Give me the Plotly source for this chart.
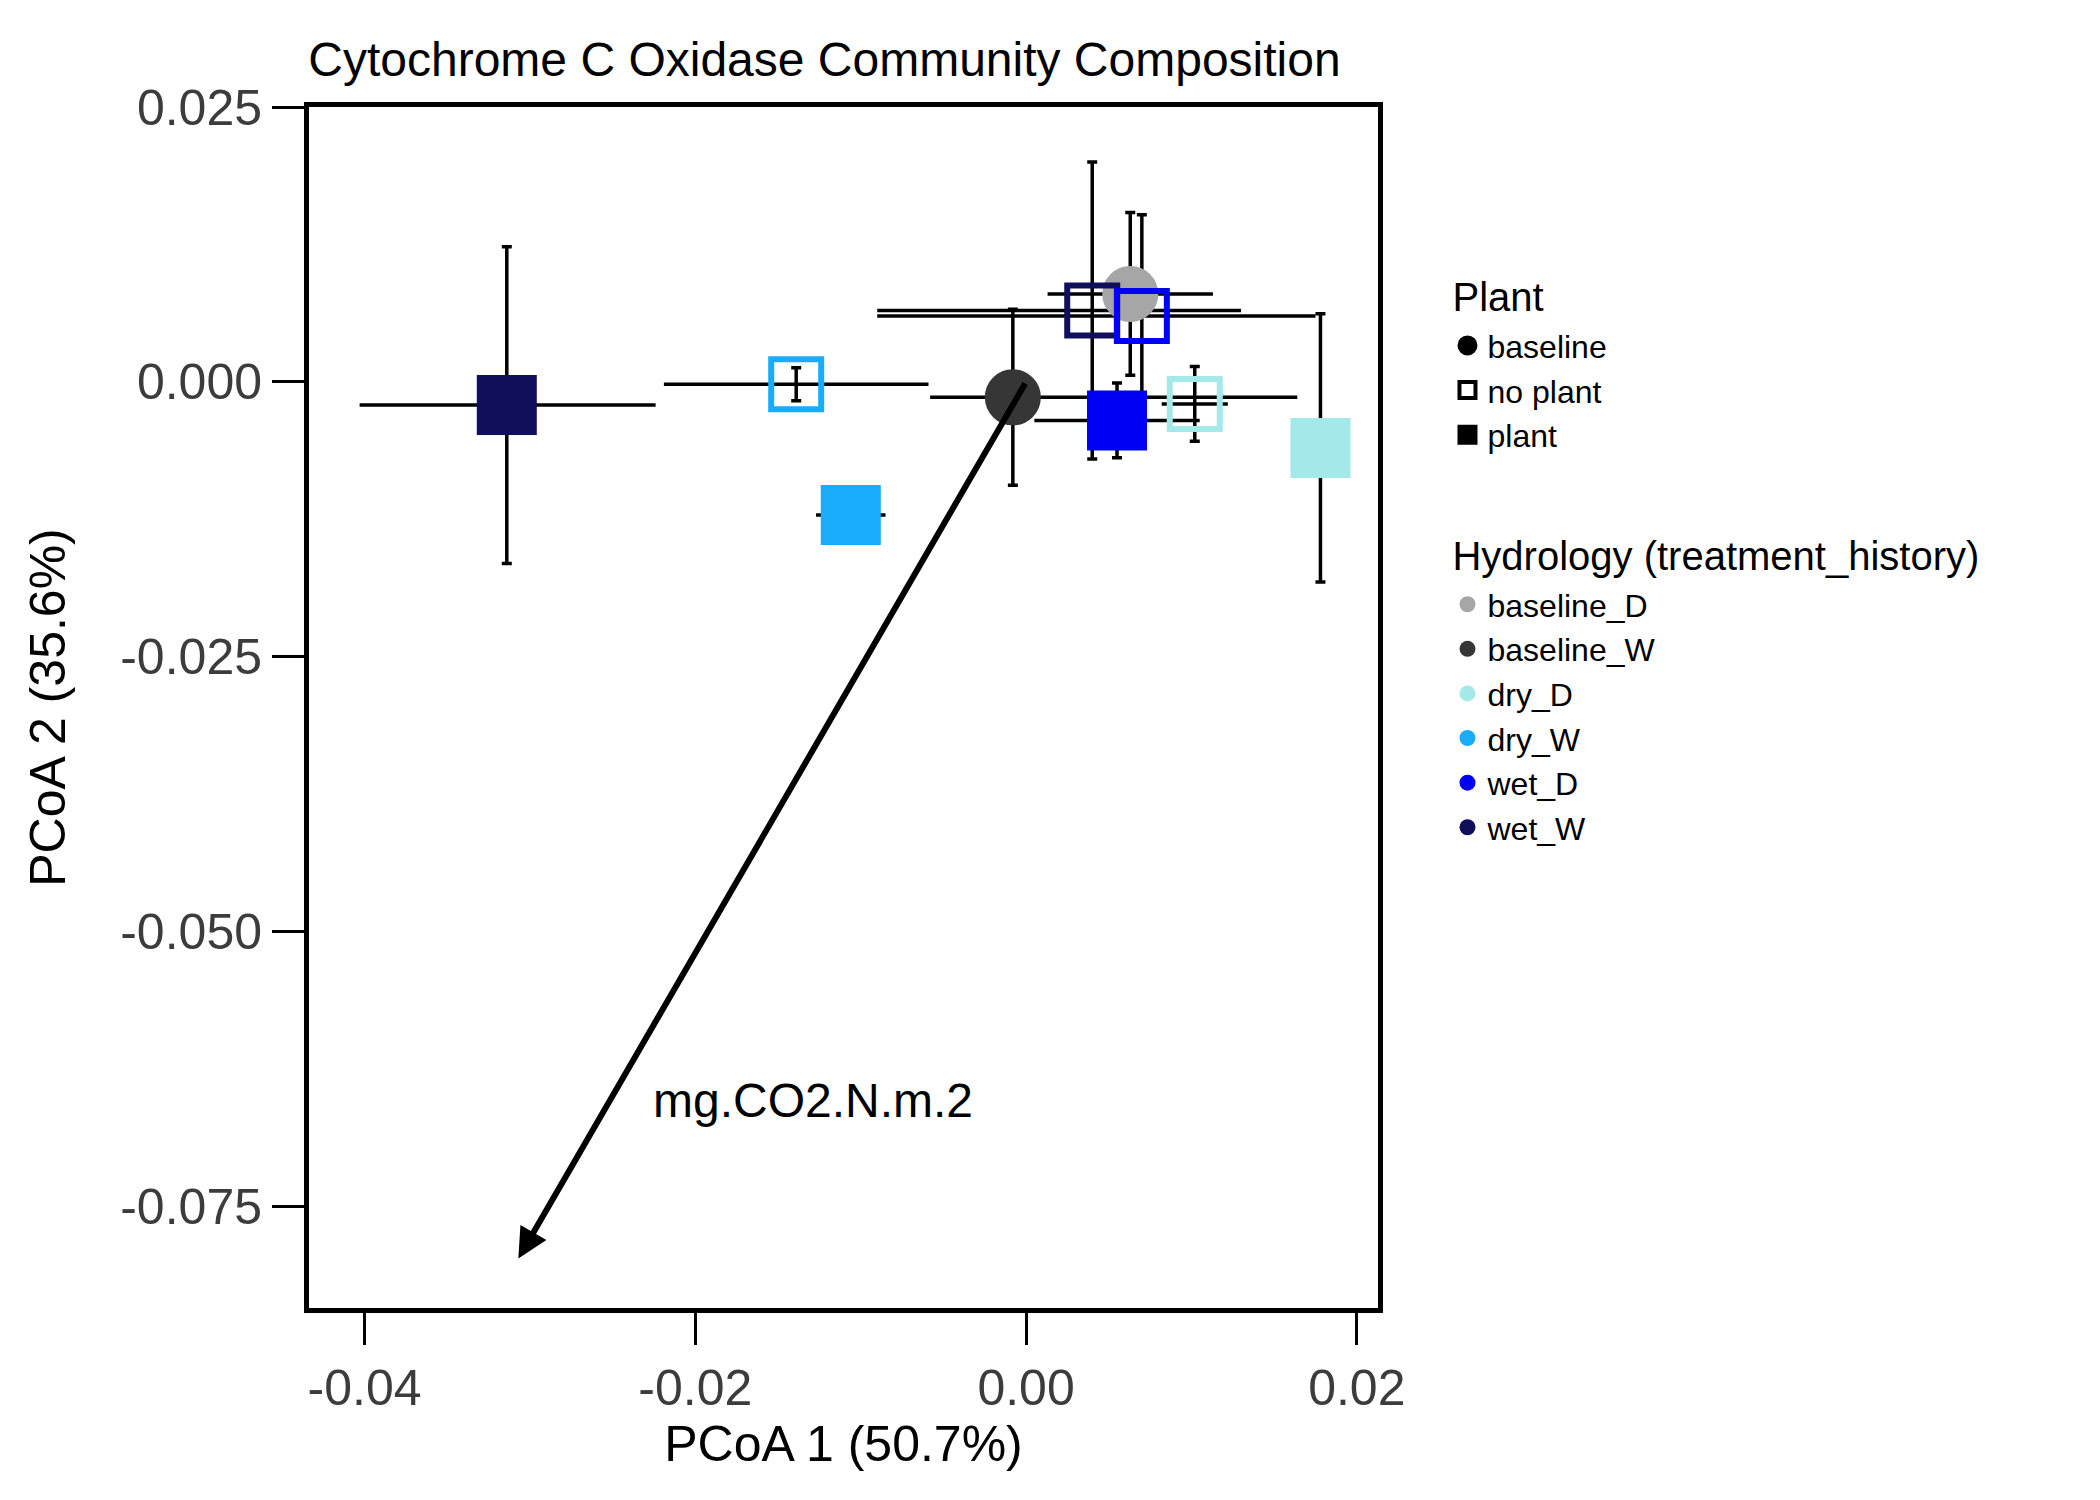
import plotly.graph_objects as go

# group means from the ordination (per hydrology / plant combination)
hydrology = ["wet_W", "dry_W", "dry_W", "baseline_W", "baseline_D", "wet_W", "wet_D", "wet_D", "dry_D", "dry_D"]
plant = ["plant", "no plant", "plant", "baseline", "baseline", "no plant", "no plant", "plant", "no plant", "plant"]
pc1 = [-0.0314, -0.0139, -0.0106, -0.0008, 0.0063, 0.0040, 0.0070, 0.0055, 0.0102, 0.0178]
pc2 = [-0.0021, -0.0002, -0.0121, -0.0014, 0.0080, 0.0065, 0.0060, -0.0035, -0.0020, -0.0060]
pc1_err_plus = [0.0090, 0.0080, 0.0021, 0.0172, 0.0050, 0.0090, 0.0105, 0.0050, 0.0020, 0.0000]
pc1_err_minus = [0.0089, 0.0080, 0.0021, 0.0050, 0.0050, 0.0130, 0.0160, 0.0050, 0.0020, 0.0000]
pc2_err = [0.0144, 0.0015, 0.0024, 0.0080, 0.0074, 0.0135, 0.0092, 0.0034, 0.0034, 0.0122]

# envfit vector
vec_name = "mg.CO2.N.m.2"
vec_x = -0.0307
vec_y = -0.0797

hyd_levels = ["baseline_D", "baseline_W", "dry_D", "dry_W", "wet_D", "wet_W"]
hyd_colors = {"baseline_D": "#A6A6A6", "baseline_W": "#363636", "dry_D": "#A3E9E9",
              "dry_W": "#19ACFA", "wet_D": "#0000F5", "wet_W": "#100F5A"}
plant_levels = ["baseline", "no plant", "plant"]
plant_symbols = {"baseline": "circle", "no plant": "square-open", "plant": "square"}

fig = go.Figure()

# error bars first
for i in range(len(pc1)):
    fig.add_trace(go.Scatter(
        x=[pc1[i]], y=[pc2[i]], mode="markers", marker=dict(size=1, opacity=0),
        error_x=dict(type="data", array=[pc1_err_plus[i]], arrayminus=[pc1_err_minus[i]],
                     color="black", thickness=3.5, width=0),
        error_y=dict(type="data", array=[pc2_err[i]], color="black", thickness=3.5, width=5),
        showlegend=False, hoverinfo="skip"))

# points
for i in range(len(pc1)):
    sym = plant_symbols[plant[i]]
    size = 50 if sym != "square" else 54
    fig.add_trace(go.Scatter(
        x=[pc1[i]], y=[pc2[i]], mode="markers",
        marker=dict(symbol=sym, size=size, color=hyd_colors[hydrology[i]],
                    line=dict(width=6, color=hyd_colors[hydrology[i]])),
        showlegend=False))

# arrow for the fitted vector
fig.add_annotation(x=vec_x, y=vec_y, ax=0, ay=0, xref="x", yref="y", axref="x", ayref="y",
                   showarrow=True, arrowhead=2, arrowsize=1, arrowwidth=6, arrowcolor="black", text="")
fig.add_annotation(x=vec_x * 0.42, y=vec_y * 0.82, text=vec_name, showarrow=False,
                   font=dict(size=48, color="black"))

# legend entries
for p in plant_levels:
    fig.add_trace(go.Scatter(
        x=[None], y=[None], mode="markers", name=p, legendgroup="plant",
        legendgrouptitle=dict(text="Plant", font=dict(size=40, color="black")),
        marker=dict(symbol=plant_symbols[p], size=36, color="black", line=dict(width=4, color="black"))))
for h in hyd_levels:
    fig.add_trace(go.Scatter(
        x=[None], y=[None], mode="markers", name=h, legendgroup="hyd",
        legendgrouptitle=dict(text="Hydrology (treatment_history)", font=dict(size=40, color="black")),
        marker=dict(symbol="circle", size=38, color=hyd_colors[h])))

axis_style = dict(showgrid=False, zeroline=False, showline=True, linecolor="black", linewidth=5,
                  mirror=True, ticks="outside", ticklen=32, tickwidth=3, tickcolor="black",
                  tickfont=dict(size=50, color="#3c3c3c"), title_font=dict(size=50, color="black"))

fig.update_xaxes(axis_style, range=[-0.04336, 0.02128], tickvals=[-0.04, -0.02, 0.0, 0.02],
                 ticktext=["-0.04", "-0.02", "0.00", "0.02"], title_text="PCoA 1 (50.7%)", title_standoff=0)
fig.update_yaxes(axis_style, range=[-0.0842, 0.025], tickvals=[0.025, 0.0, -0.025, -0.05, -0.075],
                 ticktext=["0.025", "0.000", "-0.025", "-0.050", "-0.075"], title_text="PCoA 2 (35.6%)",
                 title_standoff=40)

fig.update_layout(
    width=2100, height=1500,
    plot_bgcolor="white", paper_bgcolor="white",
    font=dict(family="Liberation Sans, Arial, sans-serif"),
    title=dict(text="Cytochrome C Oxidase Community Composition", x=0.143, xanchor="left",
               y=0.977, font=dict(size=48, color="black")),
    margin=dict(l=301, r=730, t=99, b=200),
    legend=dict(x=1.065, y=0.87, xanchor="left", yanchor="top", font=dict(size=32, color="black"),
                tracegroupgap=70, itemsizing="trace", bgcolor="rgba(0,0,0,0)"),
)

fig.write_html("out.html")
